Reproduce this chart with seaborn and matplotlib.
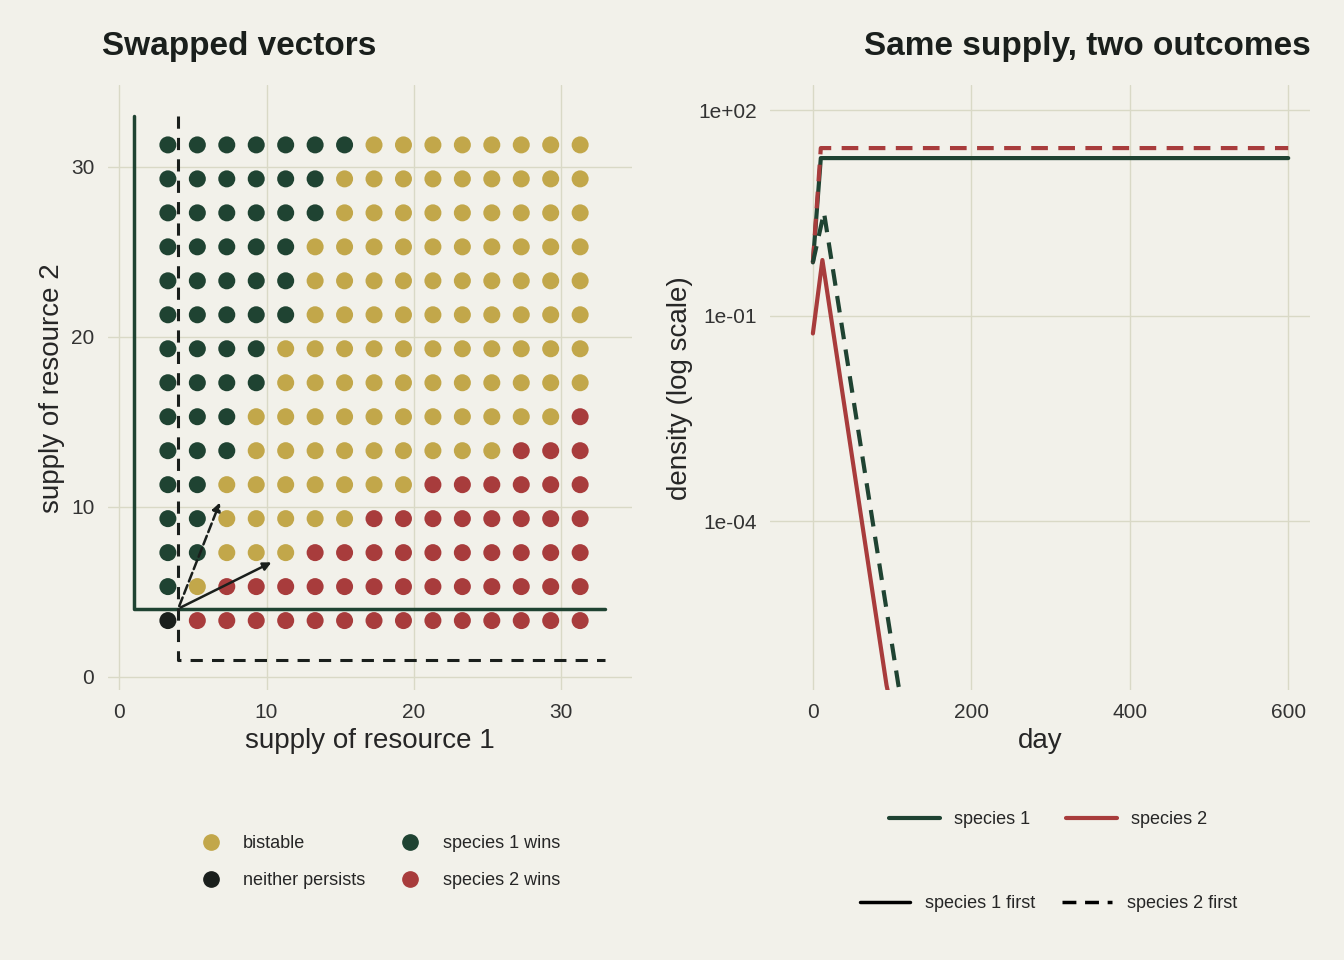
import numpy as np
import pandas as pd
import seaborn as sns
import matplotlib.pyplot as plt
from matplotlib.lines import Line2D

# grid of supplies
supply = [3.3, 5.3, 7.3, 9.3, 11.3, 13.3, 15.3, 17.3, 19.3, 21.3, 23.3, 25.3, 27.3, 29.3, 31.3]
# per row (resource 2 level): number of "neither", "species 1 wins", "bistable" from the left, rest species 2
n_neither = [1, 0, 0, 0, 0, 0, 0, 0, 0, 0, 0, 0, 0, 0, 0]
n_sp1 = [0, 1, 2, 2, 2, 3, 3, 4, 4, 5, 5, 5, 6, 6, 7]
n_bist = [0, 1, 3, 5, 7, 9, 11, 11, 11, 10, 10, 10, 9, 9, 8]

# right panel time series
days_up = [0, 10, 20, 600]
sp1_first_sp1 = [0.6, 20, 20, 20]
sp2_first_sp2 = [0.6, 28, 28, 28]
days_down = [0, 12, 93, 110]
sp1_first_sp2 = [0.055, 0.65, 4e-7, 5e-8]
days_down2 = [0, 14, 108, 120]
sp2_first_sp1 = [0.6, 3.2, 4e-7, 1e-7]

GREEN, RED, YEL, BLK = "#1F4332", "#A83C3C", "#C2A74A", "#1A1F1C"
BG, GRID = "#F2F1EA", "#D9D9C6"

rows = []
for j, y in enumerate(supply):
    for i, x in enumerate(supply):
        if i < n_neither[j]:
            o = "neither persists"
        elif i < n_neither[j] + n_sp1[j]:
            o = "species 1 wins"
        elif i < n_neither[j] + n_sp1[j] + n_bist[j]:
            o = "bistable"
        else:
            o = "species 2 wins"
        rows.append((x, y, o))
df = pd.DataFrame(rows, columns=["r1", "r2", "outcome"])

sns.set_theme(style="whitegrid")
plt.rcParams["font.family"] = ["Liberation Sans", "DejaVu Sans"]
fig, (ax1, ax2) = plt.subplots(1, 2, figsize=(13.44, 9.6), dpi=100, facecolor=BG)
ax1.set_position([0.080, 0.281, 0.390, 0.630])
ax2.set_position([0.573, 0.281, 0.402, 0.630])
for ax in (ax1, ax2):
    ax.set_facecolor(BG)
    ax.grid(color=GRID, lw=1)
    for s in ax.spines.values():
        s.set_visible(False)
    ax.tick_params(labelsize=15, colors="#333333")

pal = {"bistable": YEL, "neither persists": BLK, "species 1 wins": GREEN, "species 2 wins": RED}
sns.scatterplot(data=df, x="r1", y="r2", hue="outcome", palette=pal, s=150,
                edgecolor="none", ax=ax1, legend=False, zorder=3)
ax1.plot([1, 1, 33], [33, 4, 4], color=GREEN, lw=2.5, zorder=4)
ax1.plot([4, 4, 33], [33, 1, 1], color=BLK, lw=2.2, ls=(0, (4, 3)), zorder=4)
ax1.annotate("", xy=(10.5, 6.8), xytext=(4, 4),
             arrowprops=dict(arrowstyle="-|>", color=BLK, lw=1.8), zorder=5)
ax1.annotate("", xy=(6.9, 10.4), xytext=(4, 4),
             arrowprops=dict(arrowstyle="-|>", color=BLK, lw=1.8, ls="--"), zorder=5)
ax1.set_xlim(-0.8, 34.8)
ax1.set_ylim(-0.8, 34.8)
ax1.set_xticks([0, 10, 20, 30])
ax1.set_yticks([0, 10, 20, 30])
ax1.set_xlabel("supply of resource 1", fontsize=20)
ax1.set_ylabel("supply of resource 2", fontsize=20)
ax1.set_title("Swapped vectors", fontsize=24, fontweight="bold", loc="left", color=BLK, pad=22, x=-0.01)
h1 = [Line2D([], [], marker="o", ls="", ms=11, color=pal[k]) for k in pal]
fig.legend(h1, list(pal), ncol=2, loc="center", bbox_to_anchor=(0.28, 0.102),
           frameon=False, fontsize=13, handletextpad=0.8, columnspacing=1.5, labelspacing=1.1)

ax2.plot(days_up, sp1_first_sp1, color=GREEN, lw=3)
ax2.plot(days_down, sp1_first_sp2, color=RED, lw=3)
ax2.plot(days_up, sp2_first_sp2, color=RED, lw=3, ls=(0, (4, 2.5)))
ax2.plot(days_down2, sp2_first_sp1, color=GREEN, lw=3, ls=(0, (4, 2.5)))
ax2.set_yscale("log")
ax2.set_ylim(3.4e-7, 230)
ax2.set_xlim(-54, 628)
ax2.set_yticks([1e2, 1e-1, 1e-4])
ax2.set_yticklabels(["1e+02", "1e-01", "1e-04"])
ax2.minorticks_off()
ax2.set_xticks([0, 200, 400, 600])
ax2.set_xlabel("day", fontsize=20)
ax2.set_ylabel("density (log scale)", fontsize=20)
ax2.set_title("Same supply, two outcomes", fontsize=24, fontweight="bold", loc="right", color=BLK, pad=22)
fig.legend([Line2D([], [], color=GREEN, lw=3), Line2D([], [], color=RED, lw=3)],
           ["species 1", "species 2"], ncol=2, loc="center",
           bbox_to_anchor=(0.78, 0.146), frameon=False, fontsize=13,
           handlelength=2.8, columnspacing=2)
fig.legend([Line2D([], [], color="black", lw=2.5), Line2D([], [], color="black", lw=2.5, ls=(0, (4, 2.5)))],
           ["species 1 first", "species 2 first"], ncol=2, loc="center",
           bbox_to_anchor=(0.78, 0.059), frameon=False, fontsize=13,
           handlelength=2.8, columnspacing=1.5)

fig.savefig("out.png", facecolor=BG)
